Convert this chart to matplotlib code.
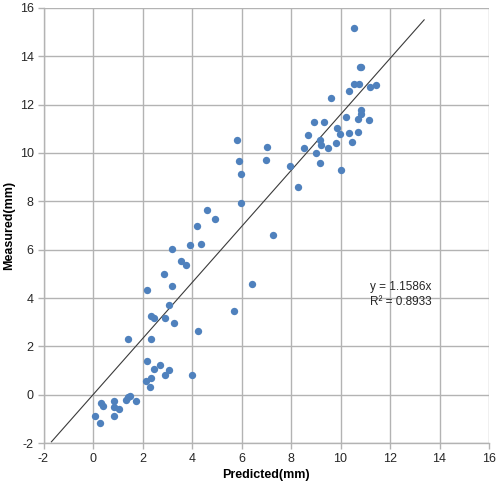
import numpy as np
import matplotlib
matplotlib.use("Agg")
import matplotlib.pyplot as plt

plt.rcParams['font.family'] = ['Liberation Sans', 'DejaVu Sans']
plt.rcParams['axes.unicode_minus'] = False

predicted = [0.10, 0.27, 0.34, 0.40, 0.84, 0.84, 1.05, 0.84, 1.35, 1.41, 1.51, 1.75,
             2.16, 2.29, 2.35, 2.92, 3.98, 3.06, 2.45, 2.69, 2.18, 1.42, 2.35, 4.26,
             3.29, 2.34, 2.47, 2.89, 3.06, 2.18, 3.19, 2.87, 3.57, 3.74, 3.19, 3.90,
             4.36, 4.19, 4.94, 4.62, 5.68, 6.43, 7.28, 5.97, 5.97, 5.90, 5.80, 6.98,
             7.05, 7.95, 8.27,
             8.54, 8.68, 8.93, 9.33, 9.02, 9.16, 9.20, 9.18, 9.50, 9.80, 9.85, 9.99,
             10.01, 10.34, 10.72, 10.48, 10.24, 10.70, 10.82, 10.84, 11.14, 9.63,
             10.34, 10.55, 10.74, 11.18, 11.43, 10.78, 10.84, 10.55]
measured = [-0.87, -1.17, -0.35, -0.46, -0.24, -0.51, -0.59, -0.87, -0.21, -0.10, -0.07, -0.24,
            0.55, 0.34, 0.68, 0.82, 0.82, 1.02, 1.06, 1.23, 1.41, 2.32, 2.32, 2.62,
            2.98, 3.27, 3.19, 3.16, 3.73, 4.32, 4.50, 5.00, 5.54, 5.37, 6.02, 6.21,
            6.25, 6.98, 7.26, 7.64, 3.47, 4.56, 6.60, 7.92, 9.14, 9.67, 10.54, 9.71,
            10.26, 9.46, 8.60,
            10.19, 10.76, 11.27, 11.27, 10.01, 10.54, 10.33, 9.57, 10.19, 10.40, 11.03, 10.79,
            9.30, 10.81, 10.88, 10.47, 11.50, 11.39, 11.60, 11.78, 11.35, 12.26,
            12.56, 12.84, 12.84, 12.74, 12.81, 13.57, 13.57, 15.18]
slope = 1.1586
r2 = 0.8933
trend_x = [-1.68, 13.38]

fig = plt.figure(figsize=(5.0, 4.88), dpi=100)
ax = fig.add_axes([0.087, 0.092, 0.891, 0.892])

grid_c = '#b3b3b3'
ax.set_xlim(-2, 16)
ax.set_ylim(-2, 16)
ax.set_xticks(np.arange(-2, 17, 2))
ax.set_yticks(np.arange(-2, 17, 2))
ax.grid(True, color=grid_c, linewidth=1.0)
ax.set_axisbelow(True)
for s in ['top', 'right']:
    ax.spines[s].set_visible(False)
for s in ['left', 'bottom']:
    ax.spines[s].set_color(grid_c)
    ax.spines[s].set_linewidth(1.0)
ax.tick_params(direction='out', length=4, width=1.0, color=grid_c,
               labelsize=9, labelcolor='#262626', pad=3)

ax.scatter(predicted, measured, s=28, color='#4f81bd', zorder=3, linewidths=0)
tx = np.array(trend_x)
ax.plot(tx, slope * tx, color='#3a3a3a', linewidth=0.8, zorder=2, clip_on=False)

ax.text(11.2, 4.45, 'y = %.4fx' % slope, fontsize=8.5, color='#262626', va='center')
ax.text(11.2, 3.85, 'R² = %.4f' % r2, fontsize=8.5, color='#262626', va='center')

ax.set_xlabel('Predicted(mm)', fontsize=9, fontweight='bold', labelpad=3)
ax.set_ylabel('Measured(mm)', fontsize=9, fontweight='bold', labelpad=3)

fig.savefig('out.png', dpi=100)
